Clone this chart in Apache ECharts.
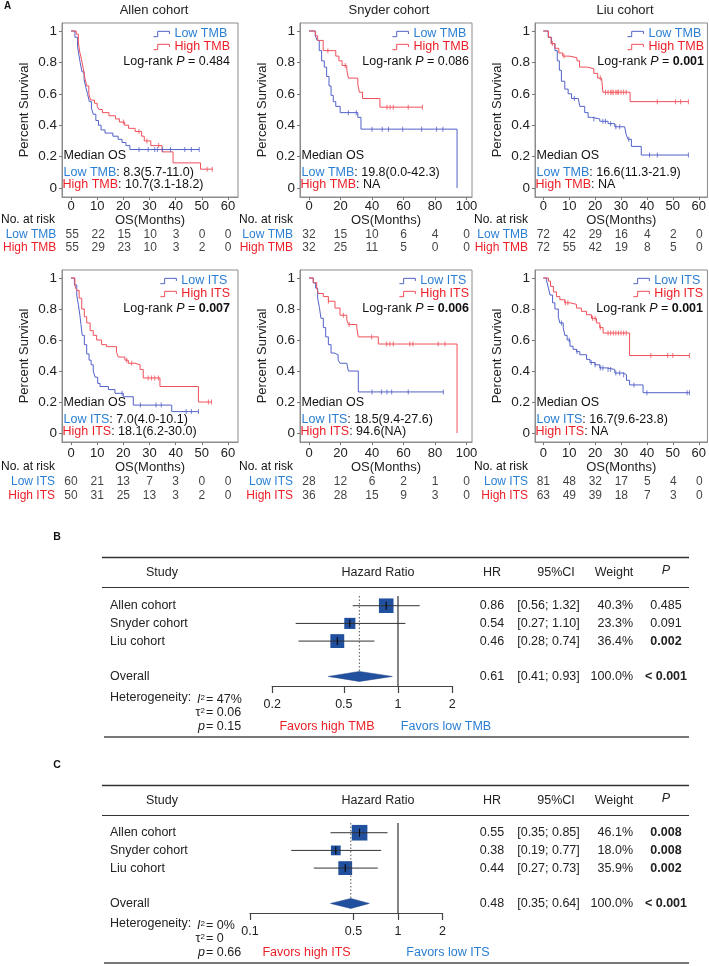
<!DOCTYPE html>
<html><head><meta charset="utf-8">
<script src="https://cdn.jsdelivr.net/npm/echarts@6/dist/echarts.min.js"></script>
<style>html,body{margin:0;padding:0;background:#fff}#c{width:709px;height:966px}</style>
</head><body><div id="c"></div>
<script>
// ================= DATA =================
const cohorts = ['Allen cohort', 'Snyder cohort', 'Liu cohort'];
const timeTicksAllen = [0, 10, 20, 30, 40, 50, 60];
const timeTicksSnyder = [0, 20, 40, 60, 80, 100];
const timeTicksLiu = [0, 10, 20, 30, 40, 50, 60];
const survTicks = [0, 0.2, 0.4, 0.6, 0.8, 1];

// Kaplan-Meier step points [months, survival after drop]
const allenTmbLow = [[0,1],[1.5,0.96],[2.5,0.9],[3,0.85],[3.5,0.8],[4.2,0.74],[5,0.69],[5.7,0.64],[6.3,0.6],[7,0.55],[7.8,0.51],[8.5,0.47],[9.5,0.43],[10.5,0.4],[11.5,0.37],[13,0.35],[16,0.33],[18,0.31],[19.5,0.29],[21,0.27],[22.5,0.245],[49,0.245]];
const allenTmbLowCens = [26, 29.5, 32, 33, 35, 38, 43.5, 46, 49];
const allenTmbHigh = [[0,1],[2,0.98],[2.8,0.93],[3.3,0.87],[4,0.82],[4.7,0.76],[5.3,0.7],[6,0.65],[6.8,0.6],[7.5,0.56],[9,0.54],[10,0.52],[10.7,0.5],[12,0.48],[14.5,0.46],[17,0.44],[18.5,0.42],[20.5,0.4],[22,0.38],[24.5,0.36],[27,0.33],[28,0.3],[30.5,0.27],[34.8,0.23],[39,0.16],[49.5,0.12],[54,0.12]];
const allenTmbHighCens = [20, 26, 29, 33.5, 52, 54];

const snyderTmbLow = [[0,1],[4,0.97],[5.2,0.94],[6.5,0.875],[8,0.81],[9.7,0.77],[11.2,0.71],[12.7,0.65],[14,0.59],[15.4,0.55],[17,0.52],[19.8,0.48],[31,0.45],[33,0.375],[94,0]];
const snyderTmbLowCens = [25, 30, 40, 46.5, 50.5, 59.5, 71.5, 81, 85];
const snyderTmbHigh = [[0,1],[4,0.97],[5.5,0.94],[9,0.875],[17,0.84],[19,0.81],[21,0.78],[24,0.75],[25,0.7],[31,0.66],[32,0.61],[34,0.57],[45,0.515],[72,0.515]];
const snyderTmbHighCens = [12, 23, 49.5, 51.5, 53.5, 63, 72];

const liuTmbLow = [[0,1],[1.9,0.96],[3.2,0.92],[4.5,0.875],[5.4,0.81],[6.2,0.75],[7,0.68],[8.3,0.63],[9.6,0.6],[10.9,0.57],[13.5,0.56],[14.1,0.52],[16,0.48],[17.3,0.45],[18.6,0.44],[21.8,0.425],[25,0.41],[27.6,0.39],[31.4,0.38],[32,0.34],[32.7,0.31],[34,0.265],[37.8,0.21],[56,0.21]];
const liuTmbLowCens = [12, 19.5, 23, 24, 26, 28, 29.5, 33, 41, 44, 56];
const liuTmbHigh = [[0,1],[2,0.96],[3,0.92],[4.5,0.89],[6,0.86],[7.5,0.84],[10,0.83],[13,0.81],[14,0.77],[17,0.76],[19.5,0.73],[21,0.7],[22.5,0.69],[23,0.61],[33.5,0.55],[56,0.55]];
const liuTmbHighCens = [3.5, 8, 22, 24, 25, 26, 26.5, 27, 28, 28.5, 29, 30, 31, 32, 44, 51, 53, 56];

const allenItsLow = [[0,1],[1.3,0.955],[2.2,0.89],[2.8,0.83],[3.4,0.76],[3.8,0.7],[4.3,0.63],[5.1,0.57],[6,0.51],[6.9,0.47],[7.7,0.44],[8.5,0.4],[9.2,0.36],[10.2,0.32],[11.1,0.3],[14.3,0.28],[16.8,0.256],[20,0.234],[23.8,0.18],[38.5,0.138],[48.7,0.138]];
const allenItsLowCens = [19.5, 26.5, 32.5, 34.5, 44, 46, 48.7];
const allenItsHigh = [[0,1],[1.5,0.95],[2.2,0.92],[3.1,0.87],[4.1,0.8],[5.1,0.75],[6,0.71],[7.3,0.66],[8.5,0.63],[9.8,0.6],[11.7,0.57],[13.6,0.557],[17.4,0.52],[18.1,0.49],[20.6,0.47],[21.9,0.45],[24.4,0.44],[26.4,0.41],[27.6,0.355],[34,0.3],[48.7,0.2],[53.7,0.2]];
const allenItsHighCens = [21.3, 23.2, 29.5, 30.8, 32, 33.4, 52.5, 53.7];

const snyderItsLow = [[0,1],[2.7,0.968],[4.2,0.935],[5.5,0.87],[6.6,0.81],[7.6,0.74],[9.1,0.68],[10.6,0.62],[12.3,0.57],[14,0.516],[16.1,0.505],[18.5,0.47],[19.7,0.45],[24,0.44],[25,0.4],[31.3,0.265],[85.3,0.265]];
const snyderItsLowCens = [40, 46, 49.5, 52.5, 63, 85.3];
const snyderItsHigh = [[0,1],[2.7,0.97],[4.9,0.935],[5.9,0.9],[9.1,0.88],[12.3,0.85],[16.5,0.806],[19.7,0.76],[24,0.73],[25,0.7],[30.3,0.68],[31.3,0.62],[44,0.574],[94,0]];
const snyderItsHighCens = [12.3, 21.8, 25.5, 39.8, 49.3, 51.4, 53.5, 64, 66, 82, 86.3];

const liuItsLow = [[0,1],[1.3,0.98],[2,0.935],[2.6,0.89],[3.6,0.84],[4.5,0.8],[5.8,0.75],[6.4,0.71],[7.7,0.68],[8.3,0.63],[9.2,0.6],[10.3,0.56],[11.5,0.54],[12.8,0.525],[14.1,0.505],[16.7,0.475],[18,0.455],[19.9,0.44],[21.8,0.42],[24.4,0.41],[27.6,0.387],[30.8,0.376],[32.1,0.34],[33.3,0.31],[38.5,0.26],[56.4,0.26]];
const liuItsLowCens = [7, 10, 13, 18.5, 20, 22, 23, 25, 26, 28, 29.5, 31, 35, 40, 55.5, 56.4];
const liuItsHigh = [[0,1],[2,0.98],[2.8,0.946],[3.9,0.91],[5.1,0.88],[6.4,0.86],[8.3,0.84],[10.3,0.83],[12.8,0.806],[14.7,0.785],[16.7,0.763],[18.6,0.74],[20.5,0.71],[21.8,0.68],[23.1,0.645],[33.3,0.5],[56.4,0.5]];
const liuItsHighCens = [8.5, 9.5, 19, 20, 22, 25, 26, 27, 28, 29, 30, 31, 32, 41.5, 48, 50, 56.4];

// Numbers at risk
const allenTmbRiskLow = [55, 22, 15, 10, 3, 0, 0];
const allenTmbRiskHigh = [55, 29, 23, 10, 3, 2, 0];
const snyderTmbRiskLow = [32, 15, 10, 6, 4, 0];
const snyderTmbRiskHigh = [32, 25, 11, 5, 0, 0];
const liuTmbRiskLow = [72, 42, 29, 16, 4, 2, 0];
const liuTmbRiskHigh = [72, 55, 42, 19, 8, 5, 0];
const allenItsRiskLow = [60, 21, 13, 7, 3, 0, 0];
const allenItsRiskHigh = [50, 31, 25, 13, 3, 2, 0];
const snyderItsRiskLow = [28, 12, 6, 2, 1, 0];
const snyderItsRiskHigh = [36, 28, 15, 9, 3, 0];
const liuItsRiskLow = [81, 48, 32, 17, 5, 4, 0];
const liuItsRiskHigh = [63, 49, 39, 18, 7, 3, 0];

// Log-rank p and median OS texts
const tmbLogRankP = ['0.484', '0.086', '0.001'];
const tmbLogRankBold = [false, false, true];
const itsLogRankP = ['0.007', '0.006', '0.001'];
const itsLogRankBold = [true, true, true];
const tmbMedianLow = ['8.3(5.7-11.0)', '19.8(0.0-42.3)', '16.6(11.3-21.9)'];
const tmbMedianHigh = ['10.7(3.1-18.2)', 'NA', 'NA'];
const itsMedianLow = ['7.0(4.0-10.1)', '18.5(9.4-27.6)', '16.7(9.6-23.8)'];
const itsMedianHigh = ['18.1(6.2-30.0)', '94.6(NA)', 'NA'];

// Forest plot B (TMB)
const studies = ['Allen cohort', 'Snyder cohort', 'Liu cohort'];
const tmbHR = [0.86, 0.54, 0.46];
const tmbLo = [0.56, 0.27, 0.28];
const tmbHi = [1.32, 1.10, 0.74];
const tmbWeight = [40.3, 23.3, 36.4];
const tmbP = ['0.485', '0.091', '0.002'];
const tmbPBold = [false, false, true];
const tmbOverall = [0.61, 0.41, 0.93];
const tmbOverallP = '< 0.001';
const tmbHetero = ['47%', '0.06', '0.15'];
const tmbAxisTicks = [0.2, 0.5, 1, 2];

// Forest plot C (ITS)
const itsHR = [0.55, 0.38, 0.44];
const itsLo = [0.35, 0.19, 0.27];
const itsHi = [0.85, 0.77, 0.73];
const itsWeight = [46.1, 18.0, 35.9];
const itsP = ['0.008', '0.008', '0.002'];
const itsPBold = [true, true, true];
const itsOverall = [0.48, 0.35, 0.64];
const itsOverallP = '< 0.001';
const itsHetero = ['0%', '0', '0.66'];
const itsAxisTicks = [0.1, 0.5, 1, 2];

// ================= STYLE / LAYOUT =================
const FONT = 'Liberation Sans, Arial, Helvetica, sans-serif';
const BLUE_LINE = '#5262c8', RED_LINE = '#f0505a';
const BLUE_TXT = '#2a7fd3', RED_TXT = '#ec1f27';
const SQ = '#21509f';
const W = 709;

const COLS = [
  {left: 62, width: 176, pl: 9, pr: 10, ticks: timeTicksAllen, titleX: 154, legendRight: [230, 230]},
  {left: 300, width: 172, pl: 9, pr: 5.5, ticks: timeTicksSnyder, titleX: 389, legendRight: [469, 469]},
  {left: 535, width: 173, pl: 8.3, pr: 8.7, ticks: timeTicksLiu, titleX: 625, legendRight: [704, 703]}
];
const ROWS = [
  {top: 23, height: 174, pt: 8, pb: 9, riskTop: 228.5, riskH: 26, nameGap: 16.5, labelMargin: 3, noRiskY: 220},
  {top: 270, height: 172, pt: 8, pb: 9, riskTop: 475, riskH: 28, nameGap: 18.5, labelMargin: 4.5, noRiskY: 467}
];

const kmPanels = [
  {row:0,col:0,lowName:'Low TMB',highName:'High TMB',low:allenTmbLow,high:allenTmbHigh,lowC:allenTmbLowCens,highC:allenTmbHighCens,p:tmbLogRankP[0],pb:tmbLogRankBold[0],mL:tmbMedianLow[0],mH:tmbMedianHigh[0],rL:allenTmbRiskLow,rH:allenTmbRiskHigh},
  {row:0,col:1,lowName:'Low TMB',highName:'High TMB',low:snyderTmbLow,high:snyderTmbHigh,lowC:snyderTmbLowCens,highC:snyderTmbHighCens,p:tmbLogRankP[1],pb:tmbLogRankBold[1],mL:tmbMedianLow[1],mH:tmbMedianHigh[1],rL:snyderTmbRiskLow,rH:snyderTmbRiskHigh},
  {row:0,col:2,lowName:'Low TMB',highName:'High TMB',low:liuTmbLow,high:liuTmbHigh,lowC:liuTmbLowCens,highC:liuTmbHighCens,p:tmbLogRankP[2],pb:tmbLogRankBold[2],mL:tmbMedianLow[2],mH:tmbMedianHigh[2],rL:liuTmbRiskLow,rH:liuTmbRiskHigh},
  {row:1,col:0,lowName:'Low ITS',highName:'High ITS',low:allenItsLow,high:allenItsHigh,lowC:allenItsLowCens,highC:allenItsHighCens,p:itsLogRankP[0],pb:itsLogRankBold[0],mL:itsMedianLow[0],mH:itsMedianHigh[0],rL:allenItsRiskLow,rH:allenItsRiskHigh},
  {row:1,col:1,lowName:'Low ITS',highName:'High ITS',low:snyderItsLow,high:snyderItsHigh,lowC:snyderItsLowCens,highC:snyderItsHighCens,p:itsLogRankP[1],pb:itsLogRankBold[1],mL:itsMedianLow[1],mH:itsMedianHigh[1],rL:snyderItsRiskLow,rH:snyderItsRiskHigh},
  {row:1,col:2,lowName:'Low ITS',highName:'High ITS',low:liuItsLow,high:liuItsHigh,lowC:liuItsLowCens,highC:liuItsHighCens,p:itsLogRankP[2],pb:itsLogRankBold[2],mL:itsMedianLow[2],mH:itsMedianHigh[2],rL:liuItsRiskLow,rH:liuItsRiskHigh}
];

function stepAt(curve, t) { let s = curve[0][1]; for (const [tt, ss] of curve) { if (tt <= t) s = ss; } return s; }

const grid = [], xAxis = [], yAxis = [], series = [], legend = [], graphic = [];

function tok(size, color, extra) {
  return Object.assign({fontSize: size, fontFamily: FONT, fill: color, color: color}, extra || {});
}
function gtext(x, y, text, o) {
  o = o || {};
  const st = {text: text, fill: o.color || '#222', font: (o.weight ? o.weight + ' ' : '') + (o.size || 12.5) + 'px ' + FONT,
    align: o.align || 'left', verticalAlign: 'middle', textAlign: o.align || 'left', textVerticalAlign: 'middle'};
  if (o.rich) st.rich = o.rich;
  return {type: 'text', x: x, y: y, silent: true, style: st};
}
function gline(x1, y1, x2, y2, color, w) {
  return {type: 'line', silent: true, shape: {x1, y1, x2, y2}, style: {stroke: color, lineWidth: w}};
}

// Column titles
cohorts.forEach((c, i) => graphic.push(gtext(COLS[i].titleX, 10, c, {size: 13, align: 'center'})));
graphic.push(gtext(4, 6, 'A', {size: 10, weight: 'bold', color: '#111'}));

const STEP_ICON = 'path://M0,5 L4,5 L4,0 L15,0 L15,2.5';

kmPanels.forEach(p => {
  const C = COLS[p.col], R = ROWS[p.row];
  const ticks = C.ticks;
  const a = ticks[0], b = ticks[ticks.length - 1];
  const kx = (b - a) / (C.width - C.pl - C.pr);
  const xmin = a - C.pl * kx, xmax = b + C.pr * kx;
  const ky = 1 / (R.height - R.pt - R.pb);
  const ymin = -R.pb * ky, ymax = 1 + R.pt * ky;

  const gi = grid.length;
  grid.push({left: C.left, top: R.top, width: C.width, height: R.height, show: true, borderColor: '#8c8c8c', borderWidth: 1, backgroundColor: 'transparent'});
  xAxis.push({gridIndex: gi, type: 'value', min: xmin, max: xmax,
    name: 'OS(Months)', nameLocation: 'middle', nameGap: R.nameGap,
    nameTextStyle: {fontSize: 13, color: '#222', fontFamily: FONT},
    splitLine: {show: false},
    axisLine: {show: true, onZero: false, lineStyle: {color: '#8c8c8c', width: 1}},
    axisTick: {show: true, length: 3, customValues: ticks, lineStyle: {color: '#777'}},
    axisLabel: {customValues: ticks, margin: R.labelMargin, fontSize: 13, color: '#222', fontFamily: FONT}});
  yAxis.push({gridIndex: gi, type: 'value', min: ymin, max: ymax,
    name: 'Percent Survival', nameLocation: 'middle', nameGap: 31,
    nameTextStyle: {fontSize: 13, color: '#222', fontFamily: FONT},
    splitLine: {show: false},
    axisLine: {show: true, onZero: false, lineStyle: {color: '#8c8c8c', width: 1}},
    axisTick: {show: true, length: 3, customValues: survTicks, lineStyle: {color: '#777'}},
    axisLabel: {customValues: survTicks, margin: 5, fontSize: 13.5, color: '#222', fontFamily: FONT,
      formatter: v => String(+(+v).toFixed(1))}});

  series.push({type: 'line', name: p.lowName, xAxisIndex: gi, yAxisIndex: gi, data: p.low, step: 'end',
    symbol: 'none', showSymbol: false, silent: true, lineStyle: {color: BLUE_LINE, width: 1}, itemStyle: {color: BLUE_LINE}, z: 3});
  series.push({type: 'line', name: p.highName, xAxisIndex: gi, yAxisIndex: gi, data: p.high, step: 'end',
    symbol: 'none', showSymbol: false, silent: true, lineStyle: {color: RED_LINE, width: 1}, itemStyle: {color: RED_LINE}, z: 3});
  series.push({type: 'scatter', xAxisIndex: gi, yAxisIndex: gi, silent: true, symbol: 'rect', symbolSize: [1, 5],
    itemStyle: {color: BLUE_LINE}, data: p.lowC.map(t => [t, stepAt(p.low, t)]), z: 4});
  series.push({type: 'scatter', xAxisIndex: gi, yAxisIndex: gi, silent: true, symbol: 'rect', symbolSize: [1, 5],
    itemStyle: {color: RED_LINE}, data: p.highC.map(t => [t, stepAt(p.high, t)]), z: 4});

  const lr = C.legendRight[p.row];
  legend.push({show: true, selectedMode: false, orient: 'vertical', align: 'left', right: W - lr, top: R.top + 4.5,
    padding: 0, itemGap: 0, itemWidth: 16, itemHeight: 6,
    textStyle: {fontSize: 12.5, fontFamily: FONT, lineHeight: 11},
    data: [
      {name: p.lowName, icon: STEP_ICON, itemStyle: {color: 'none', borderColor: BLUE_LINE, borderWidth: 1}, textStyle: {color: BLUE_TXT}},
      {name: p.highName, icon: STEP_ICON, itemStyle: {color: 'none', borderColor: RED_LINE, borderWidth: 1}, textStyle: {color: RED_TXT}}
    ]});

  // Log-rank
  graphic.push(gtext(lr, R.top + 38.5, '{n|Log-rank }{i|P}{n| = }{' + (p.pb ? 'b' : 'n') + '|' + p.p + '}', {align: 'right',
    rich: {n: tok(12.5, '#111'), i: tok(12.5, '#111', {fontStyle: 'italic'}), b: tok(12.5, '#111', {fontWeight: 'bold'})}}));
  // Median OS
  const mx = C.left + 1.5;
  graphic.push(gtext(mx, R.top + 133, 'Median OS', {color: '#111'}));
  graphic.push(gtext(mx, R.top + 150, '{c|' + p.lowName + '}{n|: ' + p.mL + '}', {rich: {c: tok(12.5, BLUE_TXT), n: tok(12.5, '#111')}}));
  graphic.push(gtext(mx - 1, R.top + 161.5, '{c|' + p.highName + '}{n|: ' + p.mH + '}', {rich: {c: tok(12.5, RED_TXT), n: tok(12.5, '#111')}}));

  // Risk table
  graphic.push(gtext(C.left - 7, R.noRiskY, 'No. at risk', {align: 'right', size: 12, color: '#111'}));
  const ri = grid.length;
  grid.push({left: C.left, top: R.riskTop, width: C.width, height: R.riskH});
  xAxis.push({gridIndex: ri, type: 'value', min: xmin, max: xmax, show: false});
  yAxis.push({gridIndex: ri, type: 'category', data: [p.lowName, p.highName], inverse: true,
    axisLine: {show: false}, axisTick: {show: false}, splitLine: {show: false},
    axisLabel: {interval: 0, margin: 7, fontSize: 12, fontFamily: FONT, color: v => (v === p.lowName ? BLUE_TXT : RED_TXT)}});
  series.push({type: 'scatter', xAxisIndex: ri, yAxisIndex: ri, silent: true, symbolSize: 0.1, itemStyle: {color: 'transparent'},
    data: ticks.map((t, j) => [t, p.lowName, p.rL[j]]).concat(ticks.map((t, j) => [t, p.highName, p.rH[j]])),
    label: {show: true, position: 'inside', formatter: q => String(q.value[2]), fontSize: 12, color: '#111', fontFamily: FONT}});
});

// ================= FOREST PLOTS =================
function addForest(f) {
  const dy = f.dy;
  const gi = grid.length;
  const lmin = Math.log10(f.ticks[0]), lmax = Math.log10(f.ticks[f.ticks.length - 1]);
  grid.push({left: f.one - (0 - lmin) * f.ppd, top: 596 + f.gdy, width: (lmax - lmin) * f.ppd, height: 90});
  const tv = f.ticks.map(v => Math.log10(v));
  xAxis.push({gridIndex: gi, type: 'value', min: lmin, max: lmax, splitLine: {show: false},
    axisLine: {show: true, onZero: false, lineStyle: {color: '#444', width: 1.2}},
    axisTick: {show: true, customValues: tv, length: 7, lineStyle: {color: '#444', width: 1.2}},
    axisLabel: {customValues: tv, margin: 12.5, fontSize: 12.5, color: '#222', fontFamily: FONT,
      formatter: v => String(+Math.pow(10, v).toPrecision(2))}});
  yAxis.push({gridIndex: gi, type: 'value', min: -0.55, max: 4.54, inverse: true, show: false});

  // study rows
  series.push({type: 'custom', xAxisIndex: gi, yAxisIndex: gi, silent: true,
    data: f.hr.map((v, i) => [Math.log10(v), i, Math.log10(f.lo[i]), Math.log10(f.hi[i]), f.w[i]]),
    renderItem: (params, api) => {
      const y = api.value(1);
      const c = api.coord([api.value(0), y]);
      const l = api.coord([api.value(2), y]);
      const h = api.coord([api.value(3), y]);
      const s = 2.3 * Math.sqrt(api.value(4));
      return {type: 'group', children: [
        {type: 'rect', shape: {x: c[0] - s / 2, y: c[1] - s / 2, width: s, height: s}, style: {fill: SQ}},
        {type: 'line', shape: {x1: l[0], y1: c[1], x2: h[0], y2: c[1]}, style: {stroke: '#333', lineWidth: 1}},
        {type: 'line', shape: {x1: c[0], y1: c[1] - 4, x2: c[0], y2: c[1] + 4}, style: {stroke: '#000', lineWidth: 1}}
      ]};
    }});
  // overall diamond, reference line at 1, dotted line at pooled estimate
  series.push({type: 'custom', xAxisIndex: gi, yAxisIndex: gi, silent: true,
    data: [[Math.log10(f.ov[0]), 4, Math.log10(f.ov[1]), Math.log10(f.ov[2])]],
    renderItem: (params, api) => {
      const cs = params.coordSys;
      const y = api.value(1);
      const c = api.coord([api.value(0), y]);
      const l = api.coord([api.value(2), y]);
      const h = api.coord([api.value(3), y]);
      const one = api.coord([0, y])[0];
      return {type: 'group', children: [
        {type: 'line', shape: {x1: one, y1: cs.y, x2: one, y2: cs.y + cs.height}, style: {stroke: '#333', lineWidth: 1.2}},
        {type: 'line', shape: {x1: c[0], y1: cs.y, x2: c[0], y2: c[1] - 5}, style: {stroke: '#555', lineWidth: 1, lineDash: [1.5, 2]}},
        {type: 'polygon', shape: {points: [[l[0], c[1]], [c[0], c[1] - 5], [h[0], c[1]], [c[0], c[1] + 5]]}, style: {fill: SQ, stroke: '#1a3f85', lineWidth: 0.5}}
      ]};
    }});
  // table text
  const rows = studies.map((n, i) => ({name: n, hr: f.hr[i].toFixed(2), ci: '[' + f.lo[i].toFixed(2) + '; ' + f.hi[i].toFixed(2) + ']',
    w: f.w[i].toFixed(1) + '%', p: f.p[i], bold: f.pBold[i]}));
  rows.push({name: 'Overall', hr: f.ov[0].toFixed(2), ci: '[' + f.ov[1].toFixed(2) + '; ' + f.ov[2].toFixed(2) + ']', w: '100.0%', p: f.ovP, bold: true});
  series.push({type: 'custom', xAxisIndex: gi, yAxisIndex: gi, silent: true,
    data: [[0, 0], [0, 1], [0, 2], [0, 4]],
    renderItem: (params, api) => {
      const r = rows[params.dataIndex];
      const y = api.coord([0, api.value(1)])[1];
      const t = (txt, x, al, bold) => ({type: 'text', x: x, y: y, style: {text: txt, fill: '#222',
        font: (bold ? 'bold ' : '') + '12.5px ' + FONT, align: al, verticalAlign: 'middle', textAlign: al, textVerticalAlign: 'middle'}});
      return {type: 'group', children: [t(r.name, 110, 'left'), t(r.hr, 492, 'center'), t(r.ci, 548.5, 'center'),
        t(r.w, 633, 'right'), t(r.p, 666, 'center', r.bold)]};
    }});

  // frame lines and header
  graphic.push(gtext(57, 537.5 + dy, f.label, {size: 10.5, weight: 'bold', color: '#111', align: 'center'}));
  graphic.push(gline(102, 557.5 + dy, 689, 557.5 + dy, '#333', 1.3));
  graphic.push(gline(102, 587.5 + dy, 689, 587.5 + dy, '#333', 1.2));
  graphic.push(gline(104, f.bottom, 689, f.bottom, '#777', 2));
  const hy = 572.5 + dy;
  graphic.push(gtext(162, hy, 'Study', {align: 'center'}));
  graphic.push(gtext(378, hy, 'Hazard Ratio', {align: 'center'}));
  graphic.push(gtext(492, hy, 'HR', {align: 'center'}));
  graphic.push(gtext(556, hy, '95%CI', {align: 'center'}));
  graphic.push(gtext(614, hy, 'Weight', {align: 'center'}));
  graphic.push(gtext(666, hy - 2, 'P', {align: 'center', weight: 'italic'}));
  // heterogeneity
  const sup = {i: tok(12.5, '#222', {fontStyle: 'italic'}), n: tok(12.5, '#222'), s: tok(8, '#222', {verticalAlign: 'top', lineHeight: 8})};
  graphic.push(gtext(110, 698 + f.hdy, 'Heterogeneity:'));
  graphic.push(gtext(205, 700 + f.hdy, '{i|I}{s|2}', {align: 'right', rich: sup}));
  graphic.push(gtext(206, 700 + f.hdy, '= ' + f.het[0]));
  graphic.push(gtext(205, 713 + f.hdy, '{n|τ}{s|2}', {align: 'right', rich: sup}));
  graphic.push(gtext(206, 713 + f.hdy, '= ' + f.het[1]));
  graphic.push(gtext(205, 727 + f.hdy, '{i|p}', {align: 'right', rich: sup}));
  graphic.push(gtext(206, 727 + f.hdy, '= ' + f.het[2]));
  graphic.push(gtext(f.favX[0], 727 + f.hdy, f.fav[0], {align: 'center', color: RED_TXT}));
  graphic.push(gtext(f.favX[1], 727 + f.hdy, f.fav[1], {align: 'center', color: BLUE_TXT}));
}

addForest({label: 'B', dy: 0, gdy: 0, hdy: 0, bottom: 737, one: 398, ppd: 180, ticks: tmbAxisTicks,
  hr: tmbHR, lo: tmbLo, hi: tmbHi, w: tmbWeight, p: tmbP, pBold: tmbPBold, ov: tmbOverall, ovP: tmbOverallP,
  het: tmbHetero, fav: ['Favors high TMB', 'Favors low TMB'], favX: [327, 446]});
addForest({label: 'C', dy: 228, gdy: 227, hdy: 226, bottom: 963, one: 398, ppd: 148, ticks: itsAxisTicks,
  hr: itsHR, lo: itsLo, hi: itsHi, w: itsWeight, p: itsP, pBold: itsPBold, ov: itsOverall, ovP: itsOverallP,
  het: itsHetero, fav: ['Favors high ITS', 'Favors low ITS'], favX: [306.5, 448]});

const chart = echarts.init(document.getElementById('c'), null, {renderer: 'canvas'});
chart.setOption({animation: false, backgroundColor: '#fff', textStyle: {fontFamily: FONT},
  grid, xAxis, yAxis, series, legend, graphic: {elements: graphic}});
</script></body></html>
